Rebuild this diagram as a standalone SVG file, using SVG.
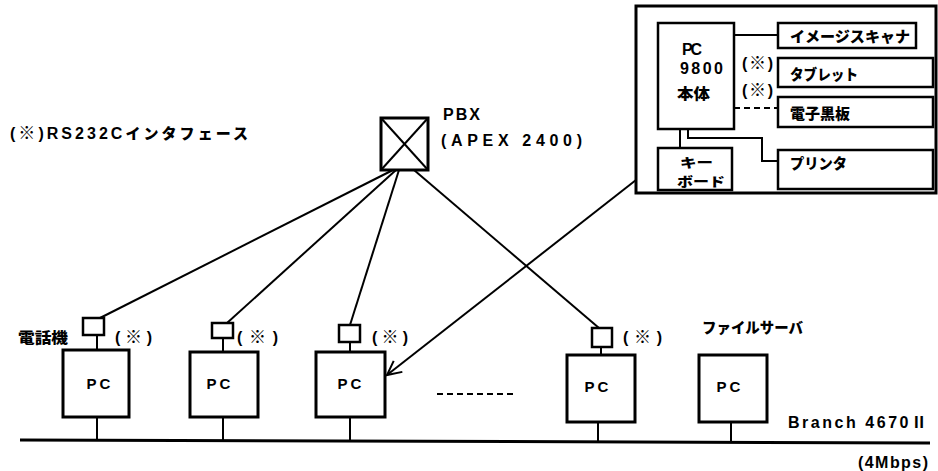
<svg xmlns="http://www.w3.org/2000/svg" width="938" height="471" viewBox="0 0 938 471">
  <style>
    .box { fill: #fff; stroke: #000; stroke-width: 3; }
    .sub { fill: #fff; stroke: #000; stroke-width: 2.5; }
    .ln { fill: none; stroke: #000; stroke-width: 2; }
    .dash { fill: none; stroke: #000; stroke-width: 2; stroke-dasharray: 6 4; }
    text { font-family: "Liberation Sans", "Noto Sans CJK JP", sans-serif; font-weight: bold; font-size: 16px; fill: #000; }
    .jp { font-family: "Noto Sans CJK JP", "Liberation Sans", sans-serif; font-weight: 900; font-size: 15px; }
    .ast { font-family: "Noto Sans CJK JP", sans-serif; font-weight: 900; font-size: 17px; }
    .sm { font-size: 13px; }
    .pc { font-size: 15px; text-anchor: middle; letter-spacing: 3px; }
  </style>
  <defs>
    <marker id="arrow" markerUnits="userSpaceOnUse" markerWidth="20" markerHeight="20" refX="16" refY="8" orient="auto">
      <path d="M2,1 L16,8 L2,15" fill="none" stroke="#000" stroke-width="2"/>
    </marker>
  </defs>

  <rect width="938" height="471" fill="#fff"/>

  <!-- legend -->
  <text x="10" y="139" textLength="238" lengthAdjust="spacing">(<tspan class="ast">※</tspan>)RS232C<tspan class="jp">インタフェース</tspan></text>

  <!-- workstation frame -->
  <g id="workstation-frame">
    <rect class="box" x="636" y="6" width="300" height="187"/>
  </g>

  <!-- connectors -->
  <g id="connectors">
    <!-- PBX to telephones -->
    <line class="ln" x1="393" y1="170" x2="100" y2="318"/>
    <line class="ln" x1="396" y1="170" x2="227" y2="323"/>
    <line class="ln" x1="399" y1="170" x2="350" y2="325"/>
    <line class="ln" x1="414" y1="170" x2="599" y2="328"/>
    <!-- telephones to PCs -->
    <line class="ln" x1="97" y1="335" x2="97" y2="350"/>
    <line class="ln" x1="223" y1="338" x2="223" y2="352"/>
    <line class="ln" x1="350" y1="342" x2="350" y2="352"/>
    <line class="ln" x1="601" y1="347" x2="601" y2="355"/>
    <!-- PCs to bus -->
    <line class="ln" x1="97" y1="417" x2="97" y2="440"/>
    <line class="ln" x1="223" y1="417" x2="223" y2="440"/>
    <line class="ln" x1="350" y1="417" x2="350" y2="441"/>
    <line class="ln" x1="598" y1="422" x2="598" y2="442"/>
    <line class="ln" x1="731" y1="422" x2="731" y2="442"/>
    <!-- Branch bus -->
    <line x1="20" y1="440" x2="930" y2="443" stroke="#000" stroke-width="3"/>
    <!-- ellipsis between PCs -->
    <line class="dash" x1="437" y1="394" x2="515" y2="394"/>
    <!-- workstation detail pointer -->
    <line class="ln" x1="636" y1="180" x2="387" y2="375" marker-end="url(#arrow)"/>
    <!-- PC-9800 internal wiring -->
    <line class="ln" x1="734" y1="35" x2="778" y2="35"/>
    <line class="dash" x1="734" y1="108" x2="778" y2="108"/>
    <line class="ln" x1="680" y1="129" x2="680" y2="148"/>
    <polyline class="ln" points="688,129 688,138 762,138 762,161 778,161"/>
  </g>

  <!-- PBX -->
  <g id="pbx">
    <rect class="box" x="381" y="118" width="47" height="52"/>
    <line class="ln" x1="381" y1="118" x2="428" y2="170"/>
    <line class="ln" x1="428" y1="118" x2="381" y2="170"/>
    <text x="443" y="120" textLength="37" lengthAdjust="spacing">PBX</text>
    <text x="441" y="146" textLength="141" lengthAdjust="spacing">(APEX 2400)</text>
  </g>

  <!-- workstation detail -->
  <g id="workstation">
    <g id="pc9800">
      <rect class="sub" x="658" y="23" width="76" height="106"/>
      <text x="682" y="55" textLength="20" lengthAdjust="spacing">PC</text>
      <text x="680" y="74" textLength="43" lengthAdjust="spacing">9800</text>
      <text class="jp" x="677" y="99" textLength="33" lengthAdjust="spacingAndGlyphs">本体</text>
    </g>
    <g id="scanner">
      <rect class="sub" x="778" y="23" width="138" height="25"/>
      <text class="jp" x="790" y="42" textLength="120" lengthAdjust="spacingAndGlyphs">イメージスキャナ</text>
    </g>
    <g id="tablet">
      <rect class="sub" x="778" y="58" width="155" height="29"/>
      <text class="jp" x="790" y="80" textLength="68" lengthAdjust="spacingAndGlyphs">タブレット</text>
      <text x="742" y="69" textLength="31" lengthAdjust="spacing">(<tspan class="ast">※</tspan>)</text>
    </g>
    <g id="whiteboard">
      <rect class="sub" x="778" y="97" width="155" height="30"/>
      <text class="jp" x="790" y="119" textLength="60" lengthAdjust="spacingAndGlyphs">電子黒板</text>
      <text x="742" y="96" textLength="31" lengthAdjust="spacing">(<tspan class="ast">※</tspan>)</text>
    </g>
    <g id="keyboard">
      <rect class="sub" x="658" y="148" width="74" height="42"/>
      <text class="jp sm" x="680" y="167" textLength="33" lengthAdjust="spacingAndGlyphs">キー</text>
      <text class="jp sm" x="677" y="186" textLength="48" lengthAdjust="spacingAndGlyphs">ボード</text>
    </g>
    <g id="printer">
      <rect class="sub" x="778" y="150" width="155" height="39"/>
      <text class="jp" x="790" y="169" textLength="57" lengthAdjust="spacingAndGlyphs">プリンタ</text>
    </g>
  </g>

  <!-- telephones -->
  <g id="phone1">
    <rect class="sub" x="83" y="318" width="21" height="17"/>
    <text class="jp" x="18" y="343" textLength="50" lengthAdjust="spacingAndGlyphs">電話機</text>
    <text x="115" y="343" textLength="37" lengthAdjust="spacing">(<tspan class="ast">※</tspan>)</text>
  </g>
  <g id="phone2">
    <rect class="sub" x="212" y="323" width="21" height="15"/>
    <text x="237" y="343" textLength="41" lengthAdjust="spacing">(<tspan class="ast">※</tspan>)</text>
  </g>
  <g id="phone3">
    <rect class="sub" x="339" y="325" width="21" height="17"/>
    <text x="372" y="343" textLength="36" lengthAdjust="spacing">(<tspan class="ast">※</tspan>)</text>
  </g>
  <g id="phone4">
    <rect class="sub" x="592" y="328" width="20" height="19"/>
    <text x="623" y="343" textLength="39" lengthAdjust="spacing">(<tspan class="ast">※</tspan>)</text>
  </g>

  <!-- PCs on the LAN -->
  <g id="pc1">
    <rect class="box" x="63" y="350" width="66" height="67"/>
    <text class="pc" x="100" y="389">PC</text>
  </g>
  <g id="pc2">
    <rect class="box" x="190" y="352" width="68" height="65"/>
    <text class="pc" x="220" y="389">PC</text>
  </g>
  <g id="pc3">
    <rect class="box" x="316" y="352" width="69" height="65"/>
    <text class="pc" x="351" y="389">PC</text>
  </g>
  <g id="pc4">
    <rect class="box" x="567" y="355" width="68" height="67"/>
    <text class="pc" x="598" y="392">PC</text>
  </g>
  <g id="fileserver">
    <rect class="box" x="699" y="355" width="68" height="67"/>
    <text class="pc" x="730" y="392">PC</text>
    <text class="jp" x="702" y="333" textLength="101" lengthAdjust="spacingAndGlyphs">ファイルサーバ</text>
  </g>

  <!-- network labels -->
  <g id="bus-label">
    <text x="788" y="428" textLength="139" lengthAdjust="spacing">Branch 4670Ⅱ</text>
    <text x="858" y="468" textLength="70" lengthAdjust="spacing">(4Mbps)</text>
  </g>
</svg>
